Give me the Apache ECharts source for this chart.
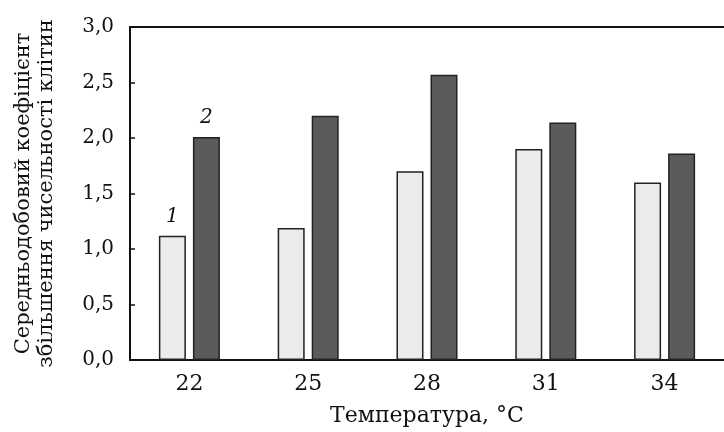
<!DOCTYPE html>
<html><head><meta charset="utf-8">
<script src="https://cdn.jsdelivr.net/npm/echarts@6/dist/echarts.min.js"></script>
<style>html,body{margin:0;padding:0;background:#fff}#c{width:724px;height:432px}</style>
</head><body><div id="c"></div>
<script>
var categories = ['22', '25', '28', '31', '34'];
var series1 = [1.12, 1.19, 1.70, 1.90, 1.60];
var series2 = [2.01, 2.20, 2.57, 2.14, 1.86];
var seriesLabels = ['1', '2'];
var yTicks = {min: 0, max: 3, interval: 0.5};

var FONT = '"DejaVu Serif", "Liberation Serif", serif';
var chart = echarts.init(document.getElementById('c'), null, {renderer: 'canvas'});
function firstLabel(vals, txt) {
  return vals.map(function (v, i) {
    if (i === 0) {
      return {value: v, label: {show: true, position: 'top', distance: 9, formatter: txt,
        fontFamily: FONT, fontStyle: 'italic', fontSize: 20, color: '#111'}};
    }
    return v;
  });
}
chart.setOption({
  animation: false,
  backgroundColor: '#fff',
  grid: {left: 130, top: 27, bottom: 70, width: 604, containLabel: false},
  xAxis: [{
    type: 'category', data: categories, position: 'bottom',
    axisLine: {show: true, lineStyle: {color: '#111', width: 2}},
    axisTick: {show: false},
    axisLabel: {fontFamily: FONT, fontSize: 22, color: '#111', margin: 13},
    name: 'Температура, °C', nameLocation: 'middle', nameGap: 45,
    nameTextStyle: {fontFamily: FONT, fontSize: 22, color: '#111'}
  }, {
    type: 'category', data: categories, position: 'top',
    axisLine: {show: true, lineStyle: {color: '#111', width: 2}},
    axisTick: {show: false}, axisLabel: {show: false}
  }],
  yAxis: {
    type: 'value', min: yTicks.min, max: yTicks.max, interval: yTicks.interval,
    axisLine: {show: true, lineStyle: {color: '#111', width: 2}},
    axisTick: {show: true, inside: true, length: 5, lineStyle: {color: '#111', width: 1.5}},
    splitLine: {show: false},
    axisLabel: {fontFamily: FONT, fontSize: 20, color: '#111', margin: 16,
      formatter: function (v) { return v.toFixed(1).replace('.', ','); }},
    name: 'Середньодобовий коефіцієнт\nзбільшення чисельності клітин',
    nameLocation: 'middle', nameGap: 72,
    nameTextStyle: {fontFamily: FONT, fontSize: 21, color: '#111', lineHeight: 23}
  },
  series: [{
    type: 'bar', name: seriesLabels[0], data: firstLabel(series1, seriesLabels[0]),
    barWidth: 27, barGap: '26%',
    itemStyle: {color: '#ebebeb', borderColor: '#222', borderWidth: 1.5}
  }, {
    type: 'bar', name: seriesLabels[1], data: firstLabel(series2, seriesLabels[1]),
    barWidth: 27, barGap: '26%',
    itemStyle: {color: '#5b5b5b', borderColor: '#222', borderWidth: 1.5}
  }]
});
</script></body></html>
